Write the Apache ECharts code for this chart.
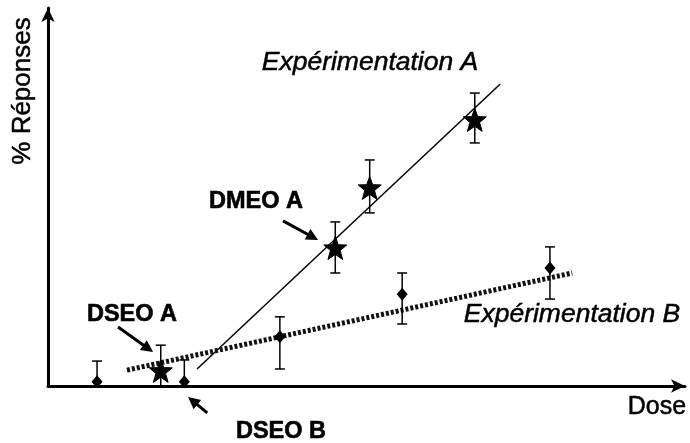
<!DOCTYPE html>
<html>
<head>
<meta charset="utf-8">
<script src="https://cdn.jsdelivr.net/npm/echarts@6/dist/echarts.min.js"></script>
<style>
html,body{margin:0;padding:0;background:#fff;}
#c{width:690px;height:443px;}
</style>
</head>
<body>
<div id="c"></div>
<script>
// ---- Data (Dose, % Réponses) in arbitrary units 0..100 ----
const doseA = [17.7, 45.1, 50.5, 67.0];
const respA = [4.0, 36.5, 52.4, 70.4];
const errLowA = [0, 29.9, 45.8, 64.3];
const errHighA = [10.8, 43.4, 59.8, 77.5];

const doseB = [7.7, 21.4, 36.4, 55.6, 78.8];
const respB = [1.1, 1.1, 13.0, 24.3, 31.2];
const errLowB = [0, 0, 4.5, 16.4, 23.0];
const errHighB = [6.6, 6.9, 18.3, 29.9, 36.8];

const fitAx = [23.4, 71.0];
const fitAy = [4.5, 79.9];
const fitBx = [12.4, 82.3];
const fitBy = [4.2, 29.9];

// annotation arrows (data coordinates: from -> to)
const arrowNames = ['DSEO A', 'DMEO A', 'DSEO B'];
const arrowFrom = [[11.0, 15.6], [36.9, 43.7], [25.0, -7.1]];
const arrowTo = [[16.5, 9.0], [42.4, 38.6], [22.0, -2.9]];

const FONT = '"Liberation Sans", Arial, Helvetica, sans-serif';
const STAR = 'path://M50,0 L63,34 L100,35 L71,58 L82,95 L50,74 L18,95 L29,58 L0,35 L37,34 Z';

const chart = echarts.init(document.getElementById('c'), null, {renderer: 'canvas'});

function errRender(params, api) {
  const x = api.value(0), lo = api.value(1), hi = api.value(2);
  const pHi = api.coord([x, hi]);
  const pLo = api.coord([x, lo]);
  const cap = 5;
  const st = {stroke: '#000', lineWidth: 1.5};
  const children = [
    {type: 'line', shape: {x1: pHi[0], y1: pHi[1], x2: pLo[0], y2: pLo[1]}, style: st},
    {type: 'line', shape: {x1: pHi[0] - cap, y1: pHi[1], x2: pHi[0] + cap, y2: pHi[1]}, style: st}
  ];
  if (lo > 0) children.push({type: 'line', shape: {x1: pLo[0] - cap, y1: pLo[1], x2: pLo[0] + cap, y2: pLo[1]}, style: st});
  return {type: 'group', children};
}

const option = {
  animation: false,
  backgroundColor: '#fff',
  grid: {left: 48, right: 5, top: 8, bottom: 57, containLabel: false},
  xAxis: {
    type: 'value', min: 0, max: 100,
    axisLine: {show: true, onZero: false, symbol: ['none', 'arrow'], symbolSize: [10, 14], lineStyle: {color: '#000', width: 3}},
    axisTick: {show: false}, axisLabel: {show: false}, splitLine: {show: false}
  },
  yAxis: {
    type: 'value', min: 0, max: 100,
    axisLine: {show: true, onZero: false, symbol: ['none', 'arrow'], symbolSize: [10, 14], lineStyle: {color: '#000', width: 3}},
    axisTick: {show: false}, axisLabel: {show: false}, splitLine: {show: false}
  },
  series: [
    {type: 'line', data: fitAx.map((x, i) => [x, fitAy[i]]), symbol: 'none',
      lineStyle: {color: '#000', width: 1.5}, z: 2},
    {type: 'line', data: fitBx.map((x, i) => [x, fitBy[i]]), symbol: 'none',
      lineStyle: {color: '#111', width: 5, type: [3, 2], cap: 'butt'}, z: 2},
    {type: 'custom', renderItem: errRender, data: doseA.map((x, i) => [x, errLowA[i], errHighA[i]]), z: 3},
    {type: 'custom', renderItem: errRender, data: doseB.map((x, i) => [x, errLowB[i], errHighB[i]]), z: 3},
    {type: 'scatter', data: doseA.map((x, i) => [x, respA[i]]), symbol: STAR, symbolSize: 23,
      itemStyle: {color: '#000', opacity: 1, borderColor: '#000', borderWidth: 1}, z: 4},
    {type: 'scatter', data: doseB.map((x, i) => [x, respB[i]]), symbol: 'diamond', symbolSize: [11, 13],
      itemStyle: {color: '#000', opacity: 1}, z: 4}
  ]
};
chart.setOption(option);

// Annotations
const graphics = [];
function txt(str, x, y, size, weight, style, rot, sw) {
  graphics.push({type: 'text', x: x, y: y, rotation: rot || 0, z: 10,
    style: {text: str, fill: '#000', stroke: '#000', lineWidth: sw || 0,
      font: (style || 'normal') + ' ' + (weight || 'normal') + ' ' + size + 'px ' + FONT,
      textAlign: 'center', textVerticalAlign: 'middle'}});
}
txt('Expérimentation A', 370, 63, 26.5, 'normal', 'italic', 0, 0.5);
txt('Expérimentation B', 572, 315, 26.5, 'normal', 'italic', 0, 0.5);
txt('DMEO A', 256, 202, 23.5, 'bold', 'normal', 0, 0.6);
txt('DSEO A', 132, 315, 23.5, 'bold', 'normal', 0, 0.6);
txt('DSEO B', 281, 432, 23.5, 'bold', 'normal', 0, 0.6);
txt('Dose', 657, 407, 25, 'normal', 'normal', 0, 0.5);
txt('% Réponses', 23, 91, 26, 'normal', 'normal', Math.PI / 2, 0.5);

arrowFrom.forEach((f, i) => {
  const p1 = chart.convertToPixel({gridIndex: 0}, f);
  const p2 = chart.convertToPixel({gridIndex: 0}, arrowTo[i]);
  const dx = p2[0] - p1[0], dy = p2[1] - p1[1];
  const len = Math.sqrt(dx * dx + dy * dy);
  const ux = dx / len, uy = dy / len;
  const hl = 12, hw = 6;
  const bx = p2[0] - ux * hl, by = p2[1] - uy * hl;
  graphics.push({type: 'line', z: 10, shape: {x1: p1[0], y1: p1[1], x2: bx + ux * 2, y2: by + uy * 2},
    style: {stroke: '#000', lineWidth: 3}});
  graphics.push({type: 'polygon', z: 10, shape: {points: [[p2[0], p2[1]], [bx - uy * hw, by + ux * hw], [bx + uy * hw, by - ux * hw]]},
    style: {fill: '#000'}});
});
chart.setOption({graphic: graphics});
</script>
</body>
</html>
